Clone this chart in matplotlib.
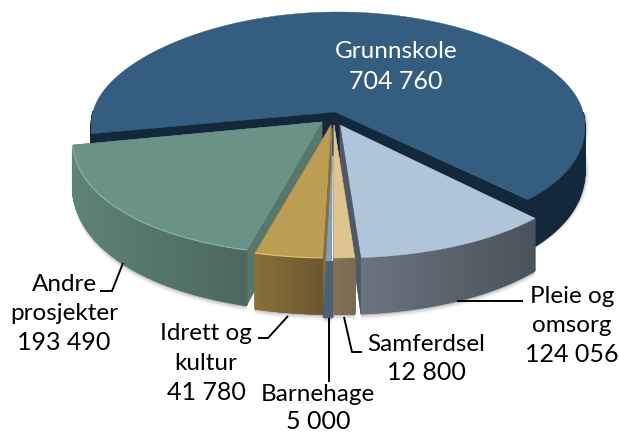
import numpy as np
import matplotlib
matplotlib.use("Agg")
import matplotlib.pyplot as plt
from matplotlib.colors import to_rgb

# Data
labels = ["Grunnskole", "Pleie og\nomsorg", "Samferdsel", "Barnehage", "Idrett og\nkultur", "Andre\nprosjekter"]
values = [704760, 124056, 12800, 5000, 41780, 193490]
value_text = ["704 760", "124 056", "12 800", "5 000", "41 780", "193 490"]

# Colours per slice: top, wall left, wall right, cut face
top_colors = ["#345d80", "#b0c5da", "#e0c48f", "#7fa0b8", "#bd9c54", "#6b9286"]
wall_left = ["#14283c", "#6a7580", "#837359", "#4c6274", "#8a7038", "#5f8377"]
wall_right = ["#14283c", "#4a525a", "#7a6b52", "#4c6274", "#6b5730", "#4b675e"]
face_colors = ["#14283c", "#4d5a66", "#7a6b52", "#4c6274", "#8a7038", "#55776c"]

RX, RY = 250.0, 133.0
CX, CY = 333.0, 112.0
# apex of every slice in pixels (exploded pie)
apex_px = [(335, 112), (340, 125), (334, 125), (332, 128), (331, 125), (322, 122)]
# the big slice is a bit smaller and sits 3 px right of its apex
scale_x = [0.98, 1, 1, 1, 1, 0.99]
scale_y = [0.94, 1, 1, 1, 1, 1]
shift_x = [3, 0, 0, 0, 0, 0]
BACK_RY = 100.0
# painter order of the slices
order = [0, 5, 1, 3, 4, 2]

plt.rcParams["font.family"] = ["Lato", "DejaVu Sans"]

fig = plt.figure(figsize=(6.2, 4.33), dpi=100)
ax = fig.add_axes([0, 0, 1, 1])


def to_data(px, py):
    return (px - CX) / RX, (CY - py) / RY


def low(x, y):
    # bottom of the wall under a point on top
    py = CY - y * RY
    d = 46 + 0.09 * (py - 146)
    return x, y - d / RY


def rim_points(i, ax0, ay0, ang):
    # outer edge of a slice, front of the pie drawn a little wider, back flatter
    ang = np.radians(ang)
    xs = np.cos(ang) * scale_x[i]
    ys = np.sin(ang)
    ys = np.where(ys > 0, ys * BACK_RY / RY, ys * scale_y[i])
    factor = 1 - 0.001 * ys * RY
    return ax0 + shift_x[i] / RX + xs * factor, ay0 + ys


wedges, _ = ax.pie(values, startangle=190, counterclock=False, radius=0.1)
ax.set_aspect("auto")
ax.set_xlim(to_data(0, 0)[0], to_data(620, 0)[0])
ax.set_ylim(to_data(0, 433)[1], to_data(0, 0)[1])
ax.axis("off")

for rank, i in enumerate(order):
    w = wedges[i]
    z = 2 + rank * 2
    ax0, ay0 = to_data(*apex_px[i])
    w.set_center((ax0, ay0))
    w.set_facecolor(top_colors[i])
    w.set_edgecolor(top_colors[i])
    w.set_linewidth(0.3)
    w.set_zorder(z - 0.5)

    t1, t2 = w.theta1, w.theta2
    # top of the slice
    ang_top = np.linspace(t1, t2, 200)
    tx, ty = rim_points(i, ax0, ay0, ang_top)
    ax.fill(np.r_[ax0, tx], np.r_[ay0, ty], color=top_colors[i], lw=0.3, zorder=z + 1)

    # cut faces
    for t in [t1, t2]:
        ex, ey = rim_points(i, ax0, ay0, np.array([t]))
        lx, ly = low(ex[0], ey[0])
        bx, by = low(ax0, ay0)
        ax.fill([ax0, ex[0], lx, bx], [ay0, ey[0], ly, by], color=face_colors[i], lw=0.3, zorder=z)

    # outer wall, only the part that faces the viewer
    ang = np.linspace(t1, t2, 160)
    ang = ang[np.sin(np.radians(ang)) <= 0.01]
    if len(ang) > 1:
        xs, ys = rim_points(i, ax0, ay0, ang)
        xl, yl = low(xs, ys)
        # soft shadow under the wall
        if i != 0:
            for off, a in [(2, 0.35), (4, 0.18), (6, 0.08)]:
                ax.fill(np.r_[xs, xl[::-1]], np.r_[ys, yl[::-1] - off / RY], color="#808080", alpha=a, lw=0, zorder=1)
        else:
            for off, a in [(2, 0.35), (4, 0.15)]:
                ax.fill(np.r_[xs + off / RX, xl[::-1] + off / RX], np.r_[ys, yl[::-1]], color="#808080", alpha=a, lw=0, zorder=1)
        left = np.array(to_rgb(wall_left[i]))
        right = np.array(to_rgb(wall_right[i]))
        x_min, x_max = xs.min(), xs.max()
        for k in range(len(ang) - 1):
            f = (xs[k] - x_min) / max(x_max - x_min, 1e-6)
            col = left + (right - left) * f
            ax.fill([xs[k], xs[k + 1], xl[k + 1], xl[k]], [ys[k], ys[k + 1], yl[k + 1], yl[k]],
                    color=col, lw=1.0, zorder=z)
        # light rim along the top edge
        if i in (4, 5):
            rim = {4: "#e6c070", 5: "#8fb5a9"}[i]
            ax.plot(xs, ys, color=rim, lw=0.8, zorder=z + 1.5, solid_capstyle="butt")

# grey sliver on the left side of Pleie og omsorg
w = wedges[1]
ax0, ay0 = to_data(*apex_px[1])
ex, ey = rim_points(1, ax0, ay0, np.array([w.theta1]))
lx, ly = low(ex[0], ey[0])
ax.fill([ax0, ex[0] - 7 / RX, lx, ex[0]], [ay0, ey[0], ly, ey[0]], color=face_colors[1], lw=0.3, zorder=9)

# leader lines
leaders = [
    [(123, 263), (112, 291), (100, 291)],
    [(288, 316), (268, 338), (258, 338)],
    [(329, 318), (329, 382)],
    [(344, 317), (352, 352), (362, 352)],
    [(457, 301), (523, 301)],
]
for line in leaders:
    pts = np.array([to_data(*p) for p in line])
    ax.plot(pts[:, 0], pts[:, 1], color="black", lw=1.4, zorder=30, solid_capstyle="butt")

# text labels (centre of the block, first line y in pixels)
label_pos = [(396, 52), (572, 297), (426, 345), (318, 395), (206, 334), (64, 285)]
line_gap = [30, 29, 28, 27, 29.5, 29]
for i, (px, py) in enumerate(label_pos):
    name_lines = labels[i].split("\n")
    color = "white" if i == 0 else "black"
    for n, s in enumerate(name_lines + [value_text[i]]):
        x, y = to_data(px, py + n * line_gap[i])
        size = 18.0 if n == len(name_lines) else 17.5
        ax.text(x, y, s, ha="center", va="center", fontsize=size, color=color, zorder=31)

fig.savefig("out.png", dpi=100, facecolor="white")
